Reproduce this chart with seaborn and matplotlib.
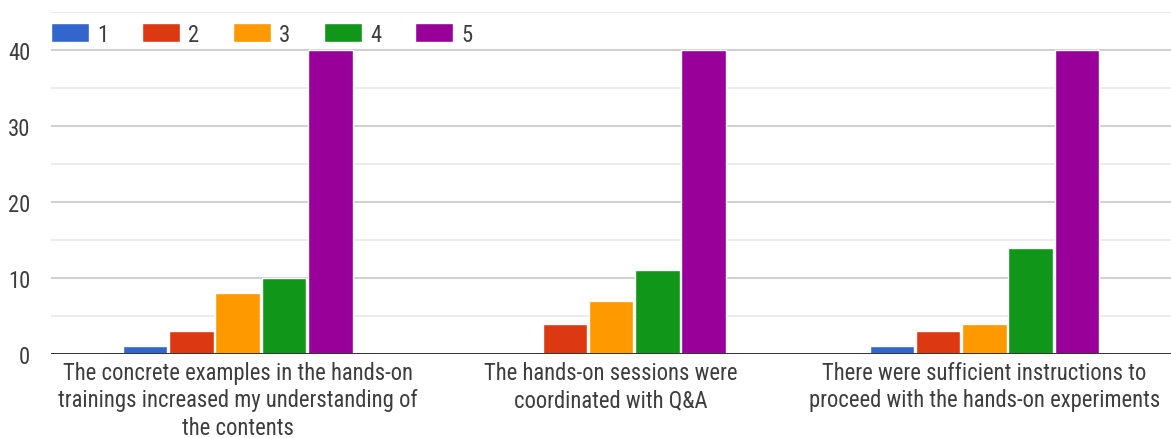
import matplotlib
matplotlib.use("Agg")
import matplotlib.pyplot as plt
import seaborn as sns
import pandas as pd

# Survey statements (x categories) and rating levels (hue)
statements = [
    "The concrete examples in the hands-on\ntrainings increased my understanding of\nthe contents",
    "The hands-on sessions were\ncoordinated with Q&A",
    "There were sufficient instructions to\nproceed with the hands-on experiments",
]
ratings = ["1", "2", "3", "4", "5"]

# Response counts per rating, one list per statement
counts_examples = [1, 3, 8, 10, 40]
counts_sessions = [0, 4, 7, 11, 40]
counts_instructions = [1, 3, 4, 14, 40]

palette = ["#3366CC", "#DC3912", "#FF9900", "#109618", "#990099"]

rows = []
for stmt, vals in zip(statements, [counts_examples, counts_sessions, counts_instructions]):
    for r, v in zip(ratings, vals):
        rows.append({"statement": stmt, "rating": r, "count": v})
df = pd.DataFrame(rows)

sns.set_theme(style="white")
plt.rcParams["font.family"] = ["Roboto Condensed", "Liberation Sans", "DejaVu Sans"]
plt.rcParams["font.weight"] = "normal"
text_color = "#3d3d3d"
fs = 16.3

fig = plt.figure(figsize=(11.71, 4.39), dpi=100)
ax = fig.add_axes([0.0436, 0.1913, 0.9564, 0.7787])

sns.barplot(
    data=df, x="statement", y="count", hue="rating",
    order=statements, hue_order=ratings, palette=palette,
    width=0.62, gap=0.04, saturation=1, ax=ax, legend=True,
)

ax.set_xlim(-0.5, 2.5)
ax.set_ylim(0, 45)
ax.set_yticks([0, 10, 20, 30, 40])
ax.set_yticks([5, 15, 25, 35, 45], minor=True)
ax.grid(axis="y", which="major", color="#cccccc", lw=1.3)
ax.grid(axis="y", which="minor", color="#ebebeb", lw=1.3)
ax.grid(axis="x", visible=False)
ax.set_axisbelow(True)
ax.axhline(0, color="#333333", lw=1.4, zorder=5)

for s in ax.spines.values():
    s.set_visible(False)

ax.tick_params(axis="y", which="both", length=0, pad=15, labelsize=fs, labelcolor=text_color)
ax.tick_params(axis="x", length=0, pad=5, labelsize=fs, labelcolor=text_color)
for lab in ax.get_xticklabels():
    lab.set_linespacing(1.24)
ax.set_xlabel("")
ax.set_ylabel("")

leg = ax.legend(
    loc="center left", bbox_to_anchor=(0.0, 0.936), ncol=5, frameon=False,
    fontsize=fs, handlelength=1.68, handleheight=0.88, handletextpad=0.35,
    columnspacing=1.5, borderaxespad=0, borderpad=0,
)
for t in leg.get_texts():
    t.set_color(text_color)

fig.savefig("out.png", dpi=100)
